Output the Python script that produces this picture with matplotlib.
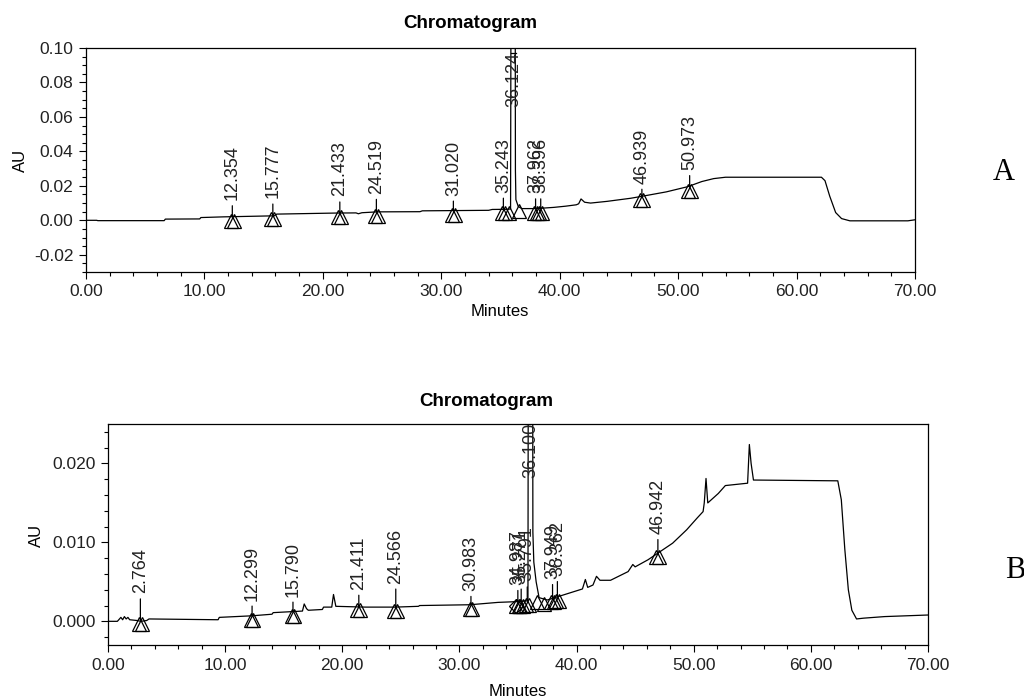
import numpy as np
import matplotlib
matplotlib.use('Agg')
import matplotlib.pyplot as plt
from matplotlib.ticker import MultipleLocator, FormatStrFormatter
import matplotlib.transforms as mtransforms

plt.rcParams['font.family'] = ['Liberation Sans', 'DejaVu Sans']
plt.rcParams['font.size'] = 12

# ---- panel A trace (minutes, AU)
time_a = [0, 0.9, 1.0, 6.6, 6.7, 9.6, 9.7, 11.6, 15.9, 16.1, 21.0, 22.8, 23.0, 23.3,
          24.6, 28.2, 28.4, 34.0, 34.3, 35.6, 35.85, 35.92, 36.22, 36.26, 36.30, 36.5,
          36.8, 38.0, 39.5, 40.5, 41.4, 41.6, 41.8, 42.1, 42.6, 44.0, 46.0, 47.0, 49.0,
          50.8, 52.0, 53.0, 54.0, 62.1, 62.4, 62.8, 63.3, 63.8, 64.5, 69.4, 70.0]
au_a = [0.0000, 0.0000, -0.0002, -0.0002, 0.0007, 0.0008, 0.0016, 0.0020, 0.0026, 0.0036,
        0.0042, 0.0043, 0.0038, 0.0044, 0.0049, 0.0050, 0.0055, 0.0058, 0.0063, 0.0064,
        0.0066, 0.2500, 0.2500, 0.0290, 0.0120, 0.0080, 0.0068, 0.0068, 0.0075, 0.0082,
        0.0090, 0.0096, 0.0124, 0.0105, 0.0100, 0.0110, 0.0128, 0.0140, 0.0165, 0.0195,
        0.0225, 0.0242, 0.0250, 0.0250, 0.0230, 0.0140, 0.0045, 0.0010, -0.0003, -0.0003,
        0.0003]

peaks_a = [12.354, 15.777, 21.433, 24.519, 31.020, 35.243, 37.962, 38.396, 46.939, 50.973]
apex_a = [0.0020, 0.0030, 0.0042, 0.0049, 0.0055, 0.0064, 0.0068, 0.0068, 0.0140, 0.0195]
main_a = 36.124

# ---- panel B trace
time_b = [0, 0.8, 1.1, 1.25, 1.4, 1.55, 1.7, 1.85, 2.5, 2.8, 3.3, 3.5, 9.4, 9.5, 12.3,
          14.0, 14.1, 16.6, 16.75, 16.95, 17.1, 18.3, 18.4, 19.1, 19.25, 19.45, 22.0, 24.5,
          26.5, 26.6, 30.9, 33.3, 35.0, 35.85, 35.89, 36.24, 36.27, 36.35, 36.55, 36.8,
          37.5, 39.0, 40.5, 40.75, 40.95, 41.4, 41.7, 42.0, 42.9, 44.4, 44.8, 45.0, 46.1,
          46.9, 48.2, 49.4, 50.3, 50.8, 50.9, 51.05, 51.2, 52.1, 52.7, 54.6, 54.75, 54.9,
          55.1, 62.3, 62.6, 62.9, 63.2, 63.5, 63.9, 64.5, 66.3, 70.0]
au_b = [0.0000, 0.0000, 0.0005, 0.0002, 0.0006, 0.0003, 0.0005, 0.0002, 0.0001, 0.0000,
        0.0001, 0.0003, 0.0002, 0.0005, 0.0007, 0.0009, 0.0011, 0.0013, 0.0022, 0.0016,
        0.0014, 0.0015, 0.0018, 0.0018, 0.0034, 0.0019, 0.0018, 0.0018, 0.0019, 0.0020,
        0.0021, 0.0024, 0.0025, 0.0026, 0.0500, 0.0500, 0.0113, 0.0075, 0.0050, 0.0030,
        0.0027, 0.0034, 0.0041, 0.0053, 0.0043, 0.0046, 0.0057, 0.0052, 0.0052, 0.0063,
        0.0072, 0.0069, 0.0078, 0.0086, 0.0099, 0.0116, 0.0131, 0.0139, 0.0150, 0.0181,
        0.0150, 0.0162, 0.0172, 0.0175, 0.0224, 0.0200, 0.0179, 0.0178, 0.0154, 0.0091,
        0.0040, 0.0014, 0.0003, 0.0004, 0.0006, 0.0008]

peaks_b = [2.764, 12.299, 15.790, 21.411, 24.566, 30.983, 34.987, 35.271, 35.791,
           37.949, 38.362, 46.942]
apex_b = [0.0002, 0.0007, 0.0012, 0.0019, 0.0018, 0.0021, 0.0025, 0.0025, 0.0026,
          0.0029, 0.0031, 0.0086]
main_b = 36.100

# label lift above apex, in points (layout only)
lift_a = [12, 12, 12, 13, 11, 12, 11, 11, 9, 12]
lift_b = [19, 11, 11, 12, 17, 10, 12, 13, 14, 14, 15, 14]


fig = plt.figure(figsize=(10.24, 6.99), dpi=100)
ax1 = fig.add_axes([86/1024, 1-272/699, (915-86)/1024, 224/699])
ax2 = fig.add_axes([108/1024, 1-645/699, (928-108)/1024, 221/699])


def style(ax, ymin, ymax, ymaj, ymin_step, yfmt):
    ax.set_xlim(0, 70)
    ax.set_ylim(ymin, ymax)
    ax.xaxis.set_major_locator(MultipleLocator(10))
    ax.xaxis.set_minor_locator(MultipleLocator(2))
    ax.yaxis.set_major_locator(MultipleLocator(ymaj))
    ax.yaxis.set_minor_locator(MultipleLocator(ymin_step))
    ax.xaxis.set_major_formatter(FormatStrFormatter('%.2f'))
    ax.yaxis.set_major_formatter(FormatStrFormatter(yfmt))
    ax.tick_params(which='major', direction='out', length=5, width=0.8, labelsize=12.5,
                   pad=4, labelcolor='#222222')
    ax.tick_params(which='minor', direction='out', length=3, width=0.8)
    for s in ax.spines.values():
        s.set_linewidth(0.9)


def label_peaks(ax, times, apex, lifts):
    down = mtransforms.offset_copy(ax.transData, fig=fig, y=-4, units='dots')
    for t, a, lift in zip(times, apex, lifts):
        ax.annotate('', xy=(t, a), xytext=(0, lift - 4), textcoords='offset points',
                    arrowprops=dict(arrowstyle='-', lw=0.9, color='k', shrinkA=0, shrinkB=0))
        ax.annotate('%.3f' % t, xy=(t, a), xytext=(0, lift), textcoords='offset points',
                    rotation=90, ha='center', va='bottom', fontsize=13, color='#222222')
        ax.plot([t - 0.12, t + 0.12], [a, a], linestyle='none', marker='^', ms=10,
                mfc='none', mec='k', mew=0.9, transform=down)


# ---- A
style(ax1, -0.03, 0.10, 0.02, 0.005, '%.2f')
ax1.plot(time_a, au_a, color='k', lw=0.9)
label_peaks(ax1, peaks_a, apex_a, lift_a)
down1 = mtransforms.offset_copy(ax1.transData, fig=fig, y=-4, units='dots')
ax1.plot([35.75, 36.55], [0.0065, 0.0075], linestyle='none', marker='^', ms=10,
         mfc='none', mec='k', mew=0.9, transform=down1)
ax1.text(main_a, 0.066, '%.3f' % main_a, rotation=90, ha='center', va='bottom',
         fontsize=13, color='#222222')
ax1.plot([main_a - 0.2, main_a + 0.2], [0.097, 0.097], color='k', lw=0.9)
fig.text(470/1024, 1-23/699, 'Chromatogram', ha='center', va='center',
         fontsize=13.5, fontweight='bold')
fig.text(500/1024, 1-312/699, 'Minutes', ha='center', va='center', fontsize=12)
fig.text(20/1024, 1-160/699, 'AU', rotation=90, ha='center', va='center', fontsize=12)
fig.text(1004/1024, 1-172/699, 'A', ha='center', va='center', fontsize=22,
         family='Liberation Serif')

# ---- B
style(ax2, -0.003, 0.025, 0.010, 0.002, '%.3f')
ax2.plot(time_b, au_b, color='k', lw=0.9)
label_peaks(ax2, peaks_b, apex_b, lift_b)
down2 = mtransforms.offset_copy(ax2.transData, fig=fig, y=-4, units='dots')
ax2.plot([36.6, 37.2], [0.0030, 0.0027], linestyle='none', marker='^', ms=10,
         mfc='none', mec='k', mew=0.9, transform=down2)
ax2.plot([34.8], [0.0024], linestyle='none', marker='D', ms=7,
         mfc='none', mec='k', mew=0.9, transform=down2)
ax2.text(main_b, 0.0181, '%.3f' % main_b, rotation=90, ha='center', va='bottom',
         fontsize=13, color='#222222')
fig.text(486/1024, 1-401/699, 'Chromatogram', ha='center', va='center',
         fontsize=13.5, fontweight='bold')
fig.text(518/1024, 1-691/699, 'Minutes', ha='center', va='center', fontsize=12)
fig.text(36/1024, 1-535/699, 'AU', rotation=90, ha='center', va='center', fontsize=12)
fig.text(1015/1024, 1-570/699, 'B', ha='center', va='center', fontsize=22,
         family='Liberation Serif')

fig.savefig('out.png', dpi=100)
